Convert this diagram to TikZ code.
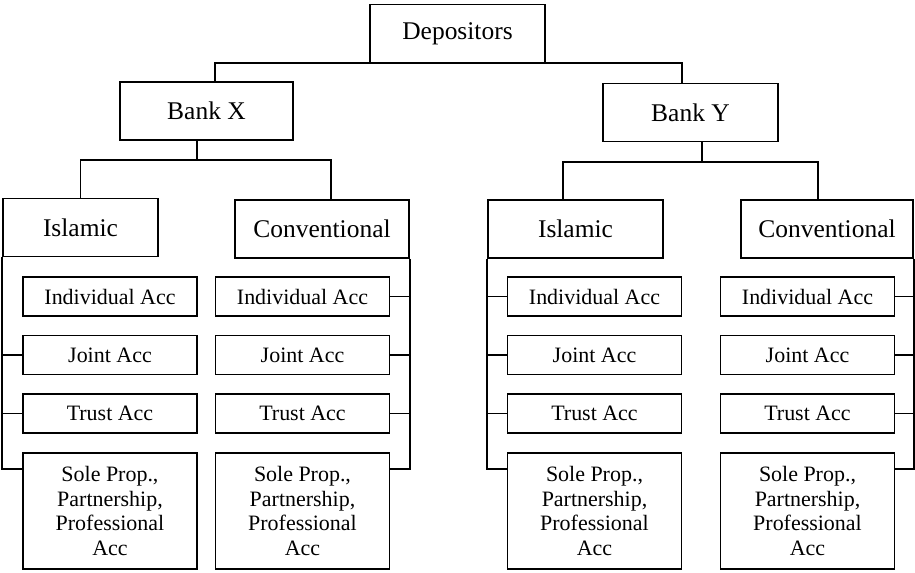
\documentclass[tikz,border=0pt]{standalone}
\usepackage{fontspec}
\setmainfont{Liberation Serif}
\usepackage{tikz}

\begin{document}
\begin{tikzpicture}[x=0.02cm,y=-0.02cm,line width=.9pt,
  head/.style={draw=black,rectangle,inner sep=0pt,minimum height=1.16cm,font=\fontsize{14.5}{17}\selectfont},
  acc/.style={draw=black,rectangle,inner sep=0pt,minimum width=3.48cm,minimum height=.78cm,font=\fontsize{12.5}{14.2}\selectfont},
  sole/.style={acc,minimum height=2.32cm,align=center}]
\useasboundingbox (0,0) rectangle (915,572);
\node at (457.5,33.5) [head,minimum width=3.5cm] (Dep) {Depositors};
\node at (206.5,111) [head,minimum width=3.46cm] (BankX) {Bank X};
\node at (690.5,112.5) [head,minimum width=3.5cm] (BankY) {Bank Y};
\node at (80.5,227.5) [head,minimum width=3.1cm] (IslX) {Islamic};
\node at (322,229) [head,minimum width=3.48cm] (ConX) {Conventional};
\node at (575.5,229) [head,minimum width=3.5cm] (IslY) {Islamic};
\node at (827,229) [head,minimum width=3.44cm] (ConY) {Conventional};
% Account Boxes
\node at (110,296.5) [acc] (IslXInd) {Individual Acc};
\node at (110,355) [acc] (IslXJoint) {Joint Acc};
\node at (110,413.5) [acc] (IslXTrust) {Trust Acc};
\node at (110,511) [sole] (IslXSole) {Sole Prop.,\\Partnership,\\Professional\\Acc};
\node at (302.5,296.5) [acc] (ConXInd) {Individual Acc};
\node at (302.5,355) [acc] (ConXJoint) {Joint Acc};
\node at (302.5,413.5) [acc] (ConXTrust) {Trust Acc};
\node at (302.5,511) [sole] (ConXSole) {Sole Prop.,\\Partnership,\\Professional\\Acc};
\node at (594.5,296.5) [acc] (IslYInd) {Individual Acc};
\node at (594.5,355) [acc] (IslYJoint) {Joint Acc};
\node at (594.5,413.5) [acc] (IslYTrust) {Trust Acc};
\node at (594.5,511) [sole] (IslYSole) {Sole Prop.,\\Partnership,\\Professional\\Acc};
\node at (807.5,296.5) [acc] (ConYInd) {Individual Acc};
\node at (807.5,355) [acc] (ConYJoint) {Joint Acc};
\node at (807.5,413.5) [acc] (ConYTrust) {Trust Acc};
\node at (807.5,511) [sole] (ConYSole) {Sole Prop.,\\Partnership,\\Professional\\Acc};
% Tree Connections
\coordinate (ForkX) at (197,160);
\coordinate (ForkY) at (702,162);
\draw ([xshift=.17cm]BankX.north) |- (Dep.south) -| ([xshift=-.17cm]BankY.north);
\draw (BankX.south -| ForkX) -- (ForkX);
\draw (IslX.north) |- (ForkX) -| ([xshift=.18cm]ConX.north);
\draw (BankY.south -| ForkY) -- (ForkY);
\draw ([xshift=-.25cm]IslY.north) |- (ForkY) -| ([xshift=-.18cm]ConY.north);
% Account Connections
\draw (IslX.south west) |- ([yshift=-.34cm]IslXSole.north west);
\draw (IslX.south west |- IslXJoint.west) -- (IslXJoint.west);
\draw (IslX.south west |- IslXTrust.west) -- (IslXTrust.west);
\draw (ConX.south east) |- ([yshift=-.34cm]ConXSole.north east);
\draw (ConX.south east |- ConXInd.east) -- (ConXInd.east);
\draw (ConX.south east |- ConXJoint.east) -- (ConXJoint.east);
\draw (ConX.south east |- ConXTrust.east) -- (ConXTrust.east);
\draw (IslY.south west) |- ([yshift=-.34cm]IslYSole.north west);
\draw (IslY.south west |- IslYInd.west) -- (IslYInd.west);
\draw (IslY.south west |- IslYJoint.west) -- (IslYJoint.west);
\draw (IslY.south west |- IslYTrust.west) -- (IslYTrust.west);
\draw (ConY.south east) |- ([yshift=-.34cm]ConYSole.north east);
\draw (ConY.south east |- ConYInd.east) -- (ConYInd.east);
\draw (ConY.south east |- ConYJoint.east) -- (ConYJoint.east);
\draw (ConY.south east |- ConYTrust.east) -- (ConYTrust.east);
\end{tikzpicture}
\end{document}
